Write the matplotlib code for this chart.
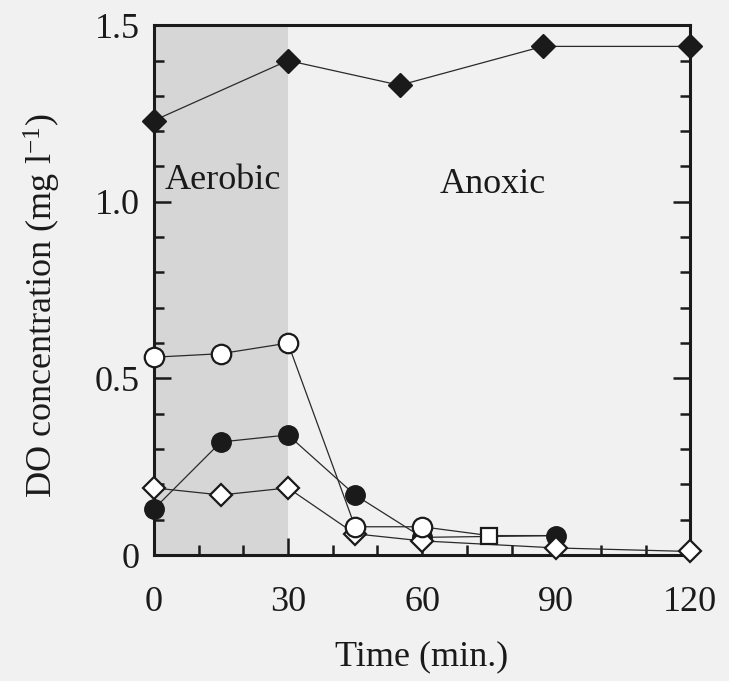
import matplotlib.pyplot as plt
import numpy as np
from matplotlib.ticker import MultipleLocator

plt.rcParams['font.family'] = ['Liberation Serif', 'DejaVu Serif']
plt.rcParams['mathtext.fontset'] = 'custom'
plt.rcParams['mathtext.rm'] = 'Liberation Serif'
plt.rcParams['mathtext.it'] = 'Liberation Serif:italic'

# values
t_top = [0, 30, 55, 87, 120]
do_top = [1.23, 1.40, 1.33, 1.44, 1.44]          # filled diamonds

t_open = [0, 15, 30, 45, 60]
do_open = [0.56, 0.57, 0.60, 0.08, 0.08]         # open circles
t_sq = [75]
do_sq = [0.055]                                  # open square
t_open_line = t_open + t_sq + [90]
do_open_line = do_open + do_sq + [0.055]

t_fill = [0, 15, 30, 45, 60, 90]
do_fill = [0.13, 0.32, 0.34, 0.17, 0.05, 0.055]  # filled circles

t_dia = [0, 15, 30, 45, 60, 90, 120]
do_dia = [0.19, 0.17, 0.19, 0.06, 0.04, 0.02, 0.01]  # open diamonds

bg = '#f1f1f1'
fig = plt.figure(figsize=(7.29, 6.81), dpi=100, facecolor=bg)
ax = fig.add_axes([0.211, 0.185, 0.736, 0.778], facecolor=bg)

ax.axvspan(0, 30, color='#d6d6d6', zorder=0, lw=0)

lc = '#2a2a2a'
ax.plot(t_top, do_top, '-', color=lc, lw=0.9, marker='D', ms=12.5,
        mfc='#1a1a1a', mec='#1a1a1a', zorder=3, clip_on=False)
ax.plot(t_open_line, do_open_line, '-', color=lc, lw=0.9, zorder=2)
ax.plot(t_open, do_open, 'o', ms=14, mfc='white', mec='#1a1a1a', mew=1.6,
        zorder=4, clip_on=False)
ax.plot(t_sq, do_sq, 's', ms=12, mfc='white', mec='#1a1a1a', mew=1.6, zorder=4)
ax.plot(t_fill, do_fill, '-', color=lc, lw=0.9, marker='o', ms=14,
        mfc='#1a1a1a', mec='#1a1a1a', zorder=3, clip_on=False)
ax.plot(t_dia, do_dia, '-', color=lc, lw=0.9, marker='D', ms=11.5,
        mfc='white', mec='#1a1a1a', mew=1.6, zorder=3, clip_on=False)

ax.text(2.5, 1.06, 'Aerobic', fontsize=26, va='center', ha='left', color='#1a1a1a')
ax.text(64, 1.05, 'Anoxic', fontsize=26, va='center', ha='left', color='#1a1a1a')

ax.set_xlim(0, 120)
ax.set_ylim(0, 1.5)
ax.xaxis.set_major_locator(MultipleLocator(30))
ax.xaxis.set_minor_locator(MultipleLocator(10))
ax.yaxis.set_major_locator(MultipleLocator(0.5))
ax.yaxis.set_minor_locator(MultipleLocator(0.1))
ax.set_yticks([0, 0.5, 1.0, 1.5])
ax.set_yticklabels(['0', '0.5', '1.0', '1.5'])

ax.tick_params(which='both', direction='in', right=True, top=False,
               labelsize=26, colors='#1a1a1a', width=1.8)
ax.tick_params(which='major', length=12)
ax.tick_params(which='minor', length=7)
ax.tick_params(axis='x', which='major', pad=22)
ax.tick_params(axis='y', which='major', pad=10)

for s in ax.spines.values():
    s.set_linewidth(2.2)
    s.set_color('#1a1a1a')

ax.set_xlabel('Time (min.)', fontsize=26, color='#1a1a1a', labelpad=16)
ax.set_ylabel('DO concentration (mg l$^{-1}$)', fontsize=26, color='#1a1a1a', labelpad=30)
ax.yaxis.set_label_coords(-0.17, 0.47)

fig.savefig('out.png', dpi=100, facecolor=bg)
